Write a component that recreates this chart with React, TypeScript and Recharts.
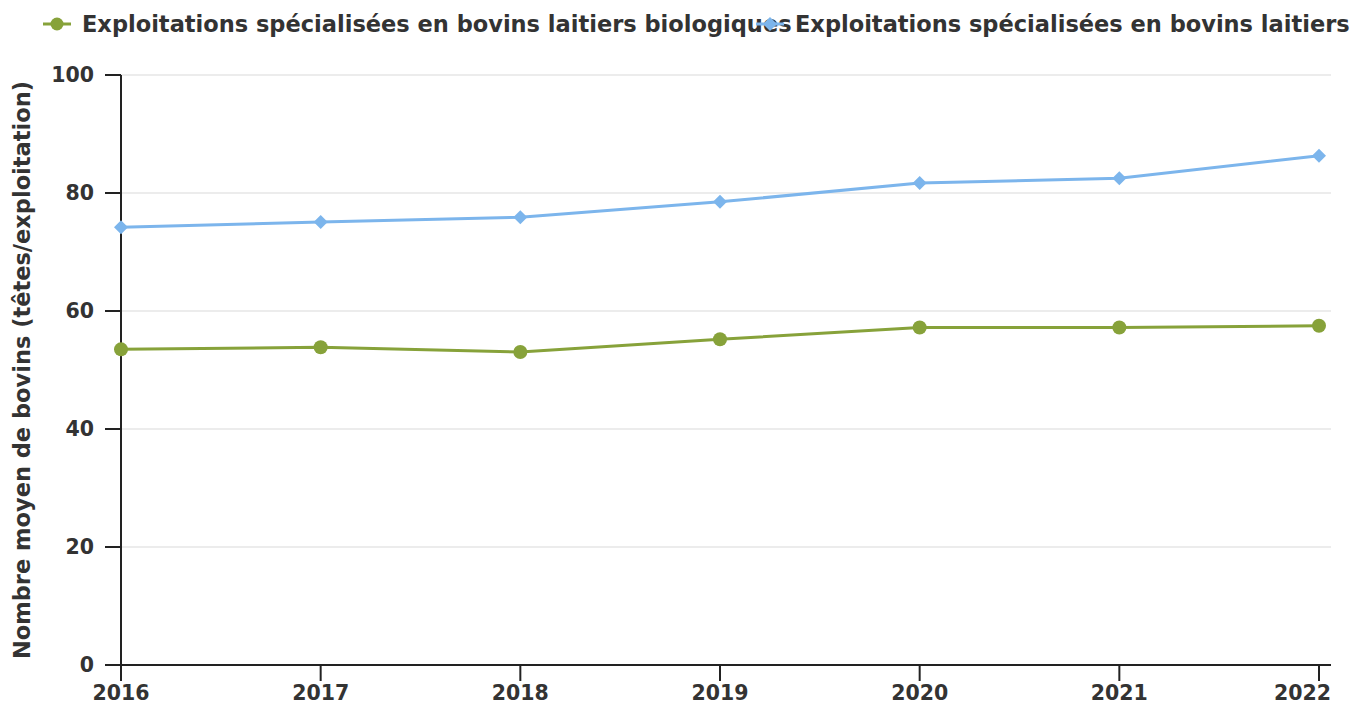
import React from "react"
import { LineChart, Line, XAxis, YAxis, CartesianGrid, Legend, Label } from "recharts"

const years = ["2016", "2017", "2018", "2019", "2020", "2021", "2022"]
const bioValues = [53.5, 53.85, 53.05, 55.2, 57.2, 57.2, 57.5]
const allValues = [74.2, 75.1, 75.9, 78.5, 81.7, 82.5, 86.3]
const yTicks = [0, 20, 40, 60, 80, 100]

const bioName = "Exploitations spécialisées en bovins laitiers biologiques"
const allName = "Exploitations spécialisées en bovins laitiers"

const GREEN = "#87a23a"
const BLUE = "#7cb5ec"
const TEXT = "#333333"
const FONT = "'DejaVu Sans', Verdana, sans-serif"

const chartData = years.map((year, i) => ({
  year,
  bio: bioValues[i],
  all: allValues[i],
}))

const tickStyle = { fill: TEXT, fontSize: 20.5, fontWeight: 700, fontFamily: FONT }

function Diamond(props: any) {
  const { cx, cy } = props
  if (cx == null || cy == null) return null
  const r = 7
  return (
    <polygon
      points={`${cx},${cy - r} ${cx + r},${cy} ${cx},${cy + r} ${cx - r},${cy}`}
      fill={BLUE}
    />
  )
}

// last year label is pulled back so it doesn't run past the plot edge
function YearTick(props: any) {
  const { x, y, payload, index } = props
  const last = index === years.length - 1
  return (
    <text
      x={last ? x + 12 : x}
      y={y}
      dy="0.9em"
      textAnchor={last ? "end" : "middle"}
      {...tickStyle}
    >
      {payload.value}
    </text>
  )
}

function LegendBox() {
  const item = (left: number, color: string, label: string, diamond: boolean) => (
    <div style={{ position: "absolute", left, top: 12, height: 24, display: "flex", alignItems: "center", whiteSpace: "nowrap" }}>
      <svg width={32} height={24} style={{ display: "block", flex: "none" }}>
        <line x1={0} y1={12} x2={28} y2={12} stroke={color} strokeWidth={3} />
        {diamond ? (
          <polygon points="14,5 21,12 14,19 7,12" fill={color} />
        ) : (
          <circle cx={14} cy={12} r={6.5} fill={color} />
        )}
      </svg>
      <span style={{ marginLeft: 7, color: TEXT, fontSize: 22.5, fontWeight: 700, fontFamily: FONT }}>{label}</span>
    </div>
  )
  // zero height so the legend reserves no room above the plot
  return (
    <div style={{ position: "relative", width: 1352, height: 0, overflow: "visible" }}>
      {item(43, GREEN, bioName, false)}
      {item(756, BLUE, allName, true)}
    </div>
  )
}

export default function App() {
  return (
    <div style={{ position: "absolute", left: 0, top: 0, width: 1352, height: 702, background: "#fff", overflow: "hidden" }}>
      <LineChart width={1352} height={702} data={chartData} margin={{ top: 75, right: 21, bottom: 0, left: 0 }}>
        <CartesianGrid vertical={false} stroke="#e6e6e6" strokeWidth={1.5} />
        <XAxis
          dataKey="year"
          height={37}
          padding={{ left: 0, right: 12 }}
          tick={<YearTick />}
          tickSize={16}
          tickMargin={1}
          stroke="#222"
          strokeWidth={2}
          tickLine={{ stroke: "#222", strokeWidth: 2 }}
          interval={0}
        />
        <YAxis
          width={121}
          domain={[0, 100]}
          ticks={yTicks}
          tick={tickStyle}
          tickSize={16}
          tickMargin={11}
          stroke="#222"
          strokeWidth={2}
          tickLine={{ stroke: "#222", strokeWidth: 2 }}
          interval={0}
        >
          <Label
            content={({ viewBox }: any) => {
              const x = viewBox.x + 22
              const y = viewBox.y + viewBox.height / 2
              return (
                <text
                  x={x}
                  y={y}
                  transform={`rotate(-90, ${x}, ${y})`}
                  textAnchor="middle"
                  dominantBaseline="central"
                  fill={TEXT}
                  fontSize={22.5}
                  fontWeight={700}
                  fontFamily={FONT}
                >
                  Nombre moyen de bovins (têtes/exploitation)
                </text>
              )
            }}
          />
        </YAxis>
        <Legend verticalAlign="top" wrapperStyle={{ top: 0, left: 0, width: 1352 }} content={() => <LegendBox />} />
        <Line
          type="linear"
          dataKey="bio"
          name={bioName}
          stroke={GREEN}
          strokeWidth={3}
          dot={{ r: 7, fill: GREEN, stroke: GREEN, strokeWidth: 0 }}
          activeDot={false}
          isAnimationActive={false}
        />
        <Line
          type="linear"
          dataKey="all"
          name={allName}
          stroke={BLUE}
          strokeWidth={3}
          dot={<Diamond />}
          activeDot={false}
          isAnimationActive={false}
        />
      </LineChart>
    </div>
  )
}
